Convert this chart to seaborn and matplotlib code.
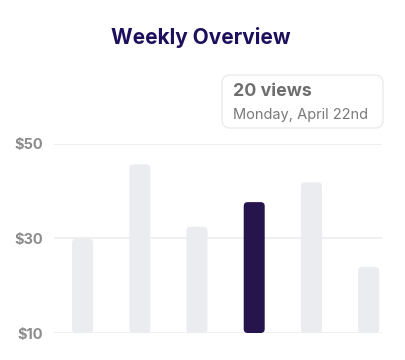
import matplotlib.pyplot as plt
import seaborn as sns
from matplotlib.patches import FancyBboxPatch

# data
days = ['Fri', 'Sat', 'Sun', 'Mon', 'Tue', 'Wed']
values = [29.9, 45.7, 32.5, 37.7, 41.9, 24.0]
highlight = 'Mon'
yticks = [10, 30, 50]
ytick_labels = ['$10', '$30', '$50']

light = '#E9ECF1'
dark = '#220C55'
colors = [dark if d == highlight else light for d in days]

sns.set_style('white')
plt.rcParams['font.family'] = ['Inter', 'DejaVu Sans']

fig = plt.figure(figsize=(4.05, 3.6), dpi=100)
ax = fig.add_axes([54 / 405, 27 / 360, 328 / 405, 189 / 360])

sns.barplot(x=days, y=values, hue=days, palette=colors, legend=False,
            width=0.367, ax=ax, zorder=3)

# swap plain bars for rounded ones sitting on the $10 line
for p in list(ax.patches):
    x0, w, h = p.get_x(), p.get_width(), p.get_height()
    fc = p.get_facecolor()
    p.remove()
    ax.add_patch(FancyBboxPatch((x0, 10), w, h - 10,
                                boxstyle='round,pad=0,rounding_size=0.07',
                                mutation_aspect=12.1, fc=fc, ec='none',
                                zorder=3))

ax.set_xlim(-0.5, 5.234)
ax.set_ylim(10, 50)
ax.set_yticks(yticks)
ax.set_yticklabels(ytick_labels)
ax.set_xticks([])
ax.set_xlabel('')
ax.set_ylabel('')
ax.yaxis.grid(True, color='#ECECEC', lw=1.2, zorder=0)
ax.tick_params(axis='y', length=0, pad=8, labelsize=10.5, labelcolor='#8C8C8C')
for lbl in ax.get_yticklabels():
    lbl.set_fontweight('bold')
sns.despine(ax=ax, left=True, bottom=True)

fig.text(0.495, 1 - 38 / 360, 'Weekly Overview', ha='center', va='center',
         fontsize=15, fontweight='bold', color='#1E0F5C')

# tooltip
fig.patches.append(FancyBboxPatch((222 / 405, 1 - 128 / 360), 161 / 405, 53 / 360,
                                  boxstyle='round,pad=0,rounding_size=0.02',
                                  mutation_aspect=405 / 360,
                                  transform=fig.transFigure, fc='white',
                                  ec='#EBEBEB', lw=1.0, figure=fig))
fig.text(233 / 405, 1 - 91 / 360, '20 views', ha='left', va='center',
         fontsize=12.8, fontweight='bold', color='#6E6E6E')
fig.text(233 / 405, 1 - 115 / 360, 'Monday, April 22nd', ha='left', va='center',
         fontsize=10.5, color='#7A7A7A')

fig.savefig('out.png', dpi=100)
